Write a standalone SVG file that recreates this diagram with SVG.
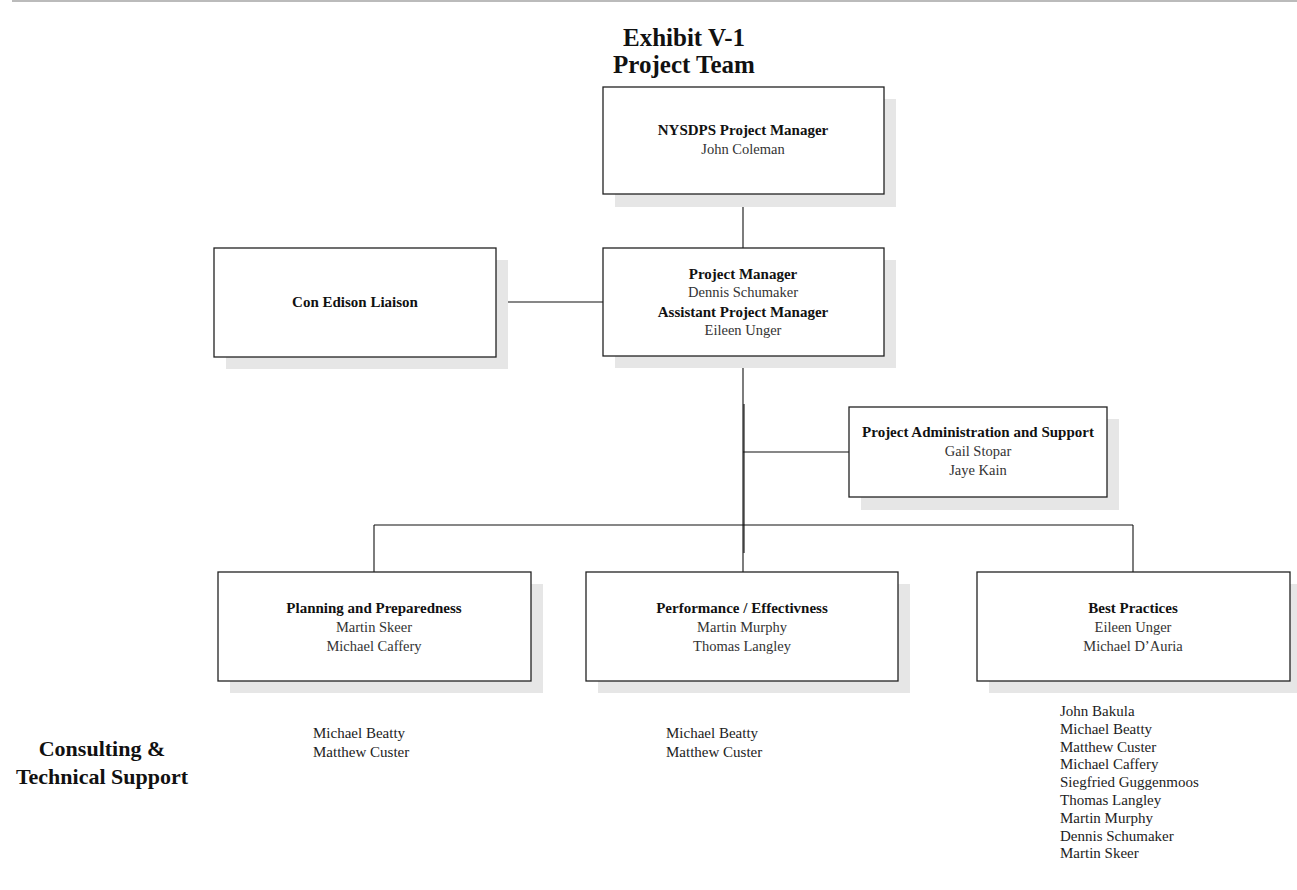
<svg xmlns="http://www.w3.org/2000/svg" width="1297" height="890" viewBox="0 0 1297 890">
<style>
.sh{fill:#e6e6e6;stroke:none}
.bx{fill:#fff;stroke:#222;stroke-width:1.3}
.cn{stroke:#111;stroke-width:1.1;fill:none}
text{font-family:"Liberation Serif","Times New Roman",serif;fill:#111}
.b{font-weight:bold;font-size:15px;text-anchor:middle}
.r{font-size:14.5px;text-anchor:middle;fill:#333}
.t{font-weight:bold;font-size:25px;text-anchor:middle}
.l{font-size:15px;fill:#222}
.c{font-weight:bold;font-size:22px;text-anchor:middle}
</style>
<rect width="1297" height="890" fill="#fff"/>
<line x1="12" y1="1" x2="1297" y2="1" stroke="#bbb" stroke-width="2"/>
<g id="title">
<text class="t" x="684" y="46">Exhibit V-1</text>
<text class="t" x="684" y="73">Project Team</text>
</g>
<g id="connectors">
<line class="cn" x1="743" y1="194" x2="743" y2="248"/>
<line class="cn" x1="496" y1="302" x2="603" y2="302"/>
<line class="cn" x1="743" y1="356" x2="743" y2="572"/>
<line class="cn" x1="744" y1="404" x2="744" y2="553"/>
<line class="cn" x1="743" y1="452" x2="849" y2="452"/>
<line class="cn" x1="374" y1="525" x2="1133" y2="525"/>
<line class="cn" x1="374" y1="525" x2="374" y2="572"/>
<line class="cn" x1="1133" y1="525" x2="1133" y2="572"/>
</g>
<g id="nysdps">
<rect class="sh" x="615" y="99" width="281" height="108"/>
<rect class="bx" x="603" y="87" width="281" height="107"/>
<text class="b" x="743" y="135">NYSDPS Project Manager</text>
<text class="r" x="743" y="154">John Coleman</text>
</g>
<g id="pm">
<rect class="sh" x="615" y="260" width="281" height="108"/>
<rect class="bx" x="603" y="248" width="281" height="108"/>
<text class="b" x="743" y="279">Project Manager</text>
<text class="r" x="743" y="297">Dennis Schumaker</text>
<text class="b" x="743" y="317">Assistant Project Manager</text>
<text class="r" x="743" y="335">Eileen Unger</text>
</g>
<g id="coned">
<rect class="sh" x="226" y="260" width="282" height="109"/>
<rect class="bx" x="214" y="248" width="282" height="109"/>
<text class="b" x="355" y="307">Con Edison Liaison</text>
</g>
<g id="admin">
<rect class="sh" x="861" y="419" width="258" height="91"/>
<rect class="bx" x="849" y="407" width="258" height="90"/>
<text class="b" x="978" y="437">Project Administration and Support</text>
<text class="r" x="978" y="456">Gail Stopar</text>
<text class="r" x="978" y="475">Jaye Kain</text>
</g>
<g id="planning">
<rect class="sh" x="230" y="584" width="313" height="109"/>
<rect class="bx" x="218" y="572" width="313" height="109"/>
<text class="b" x="374" y="613">Planning and Preparedness</text>
<text class="r" x="374" y="632">Martin Skeer</text>
<text class="r" x="374" y="651">Michael Caffery</text>
</g>
<g id="performance">
<rect class="sh" x="598" y="584" width="312" height="109"/>
<rect class="bx" x="586" y="572" width="312" height="109"/>
<text class="b" x="742" y="613">Performance / Effectivness</text>
<text class="r" x="742" y="632">Martin Murphy</text>
<text class="r" x="742" y="651">Thomas Langley</text>
</g>
<g id="best">
<rect class="sh" x="989" y="584" width="313" height="109"/>
<rect class="bx" x="977" y="572" width="313" height="109"/>
<text class="b" x="1133" y="613">Best Practices</text>
<text class="r" x="1133" y="632">Eileen Unger</text>
<text class="r" x="1133" y="651">Michael D’Auria</text>
</g>
<g id="consulting">
<text class="c" x="102" y="756">Consulting &amp;</text>
<text class="c" x="102" y="784">Technical Support</text>
</g>
<g id="list-planning">
<text class="l" x="313" y="738">Michael Beatty</text>
<text class="l" x="313" y="757">Matthew Custer</text>
</g>
<g id="list-performance">
<text class="l" x="666" y="738">Michael Beatty</text>
<text class="l" x="666" y="757">Matthew Custer</text>
</g>
<g id="list-best">
<text class="l" x="1060" y="716">John Bakula</text>
<text class="l" x="1060" y="734">Michael Beatty</text>
<text class="l" x="1060" y="752">Matthew Custer</text>
<text class="l" x="1060" y="769">Michael Caffery</text>
<text class="l" x="1060" y="787">Siegfried Guggenmoos</text>
<text class="l" x="1060" y="805">Thomas Langley</text>
<text class="l" x="1060" y="823">Martin Murphy</text>
<text class="l" x="1060" y="841">Dennis Schumaker</text>
<text class="l" x="1060" y="858">Martin Skeer</text>
</g>
</svg>
